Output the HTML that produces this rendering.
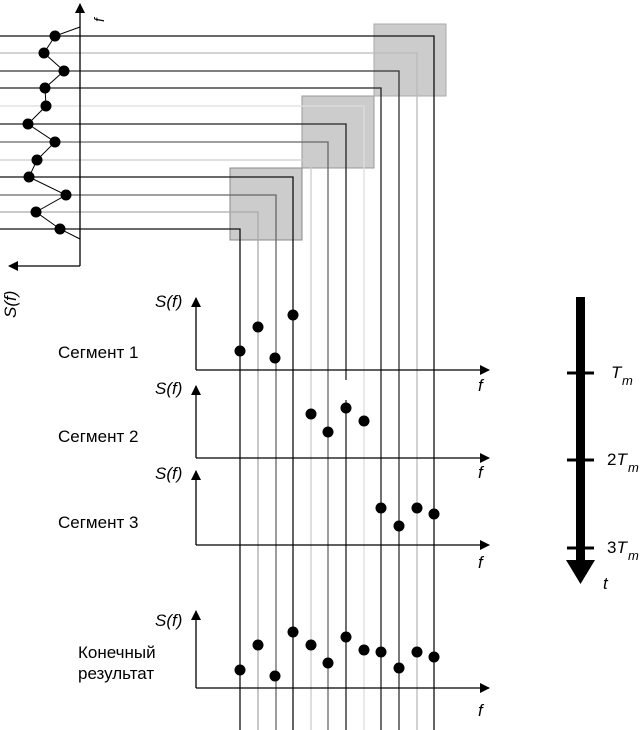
<!DOCTYPE html>
<html><head><meta charset="utf-8"><style>body{margin:0;background:#fff}svg{display:block}text{font-family:"Liberation Sans",Arial,sans-serif;fill:#000}</style></head>
<body>
<svg width="643" height="730" viewBox="0 0 643 730" xmlns="http://www.w3.org/2000/svg" font-size="17">
<defs>
<marker id="ar" markerWidth="10" markerHeight="10" refX="9" refY="5" orient="auto" markerUnits="userSpaceOnUse"><path d="M0,0 L10,5 L0,10z" fill="#000"/></marker>
</defs>
<rect x="230" y="168" width="72" height="72" fill="#cccccc" stroke="#888" stroke-width="1"/>
<rect x="302" y="96" width="72" height="72" fill="#cccccc" stroke="#999" stroke-width="1"/>
<rect x="374" y="24" width="72" height="72" fill="#cccccc" stroke="#aaa" stroke-width="1"/>
<g fill="none" stroke-width="1.3">
<path d="M0,36H434V730" stroke="#111"/>
<path d="M0,53H417V730" stroke="#bbb"/>
<path d="M0,71H399V730" stroke="#333"/>
<path d="M0,88H381V730" stroke="#222"/>
<path d="M0,106H364V730" stroke="#ddd"/>
<path d="M0,124H346V380M346,400V730" stroke="#222"/>
<path d="M0,142H328V730" stroke="#666"/>
<path d="M0,160H311V730" stroke="#ccc"/>
<path d="M0,177H293V730" stroke="#111"/>
<path d="M0,195H276V730" stroke="#666"/>
<path d="M0,212H258V730" stroke="#aaa"/>
<path d="M0,229H240V730" stroke="#111"/>
</g>
<line x1="80" y1="266" x2="80" y2="4" stroke="#000" stroke-width="1.3" marker-end="url(#ar)"/>
<line x1="80" y1="266" x2="9" y2="266" stroke="#000" stroke-width="1.3" marker-end="url(#ar)"/>
<polyline points="80,27 55,36 44,53 64,71 45,88 46,106 28,124 55,142 37,160 29,177 66,195 36,212 60,229 80,239" fill="none" stroke="#000" stroke-width="1"/>
<g fill="#000">
<circle cx="55" cy="36" r="5.5"/><circle cx="44" cy="53" r="5.5"/><circle cx="64" cy="71" r="5.5"/><circle cx="45" cy="88" r="5.5"/><circle cx="46" cy="106" r="5.5"/><circle cx="28" cy="124" r="5.5"/><circle cx="55" cy="142" r="5.5"/><circle cx="37" cy="160" r="5.5"/><circle cx="29" cy="177" r="5.5"/><circle cx="66" cy="195" r="5.5"/><circle cx="36" cy="212" r="5.5"/><circle cx="60" cy="229" r="5.5"/>
</g>
<text transform="translate(104,22) rotate(-90)" font-style="italic" font-size="14">f</text>
<text transform="translate(16,318) rotate(-90)" font-style="italic">S(f)</text>
<g stroke="#000" stroke-width="1.3">
<line x1="196" y1="370" x2="196" y2="298" marker-end="url(#ar)"/><line x1="196" y1="370" x2="489" y2="370" marker-end="url(#ar)"/>
<line x1="196" y1="458" x2="196" y2="386" marker-end="url(#ar)"/><line x1="196" y1="458" x2="489" y2="458" marker-end="url(#ar)"/>
<line x1="196" y1="545" x2="196" y2="471" marker-end="url(#ar)"/><line x1="196" y1="545" x2="489" y2="545" marker-end="url(#ar)"/>
<line x1="196" y1="688" x2="196" y2="611" marker-end="url(#ar)"/><line x1="196" y1="688" x2="489" y2="688" marker-end="url(#ar)"/>
</g>
<g fill="#000">
<circle cx="240" cy="351" r="5.5"/><circle cx="258" cy="327" r="5.5"/><circle cx="275" cy="358" r="5.5"/><circle cx="293" cy="315" r="5.5"/>
<circle cx="311" cy="414" r="5.5"/><circle cx="328" cy="432" r="5.5"/><circle cx="346" cy="408" r="5.5"/><circle cx="364" cy="421" r="5.5"/>
<circle cx="381" cy="508" r="5.5"/><circle cx="399" cy="526" r="5.5"/><circle cx="417" cy="508" r="5.5"/><circle cx="434" cy="514" r="5.5"/>
<circle cx="240" cy="670" r="5.5"/><circle cx="258" cy="645" r="5.5"/><circle cx="275" cy="676" r="5.5"/><circle cx="293" cy="632" r="5.5"/><circle cx="311" cy="645" r="5.5"/><circle cx="328" cy="663" r="5.5"/><circle cx="346" cy="637" r="5.5"/><circle cx="364" cy="650" r="5.5"/><circle cx="381" cy="652" r="5.5"/><circle cx="399" cy="668" r="5.5"/><circle cx="417" cy="652" r="5.5"/><circle cx="434" cy="657" r="5.5"/>
</g>
<g font-style="italic">
<text x="155" y="307">S(f)</text><text x="155" y="394">S(f)</text><text x="155" y="479">S(f)</text><text x="155" y="626">S(f)</text>
<text x="478" y="391">f</text><text x="478" y="478">f</text><text x="478" y="568">f</text><text x="478" y="716">f</text>
</g>
<text x="58" y="358">Сегмент 1</text>
<text x="58" y="442">Сегмент 2</text>
<text x="58" y="528">Сегмент 3</text>
<text x="78" y="658">Конечный</text>
<text x="78" y="679">результат</text>
<rect x="576" y="297" width="9" height="266" fill="#000"/>
<path d="M566,560 L595,560 L580.5,584z" fill="#000"/>
<g stroke="#000" stroke-width="3"><line x1="567" y1="373" x2="594" y2="373"/><line x1="567" y1="460" x2="594" y2="460"/><line x1="567" y1="548" x2="594" y2="548"/></g>
<text x="611" y="378" font-style="italic">T</text><text x="622" y="385" font-style="italic" font-size="13">m</text>
<text x="607" y="465">2<tspan font-style="italic">T</tspan></text><text x="628" y="472" font-style="italic" font-size="13">m</text>
<text x="607" y="553">3<tspan font-style="italic">T</tspan></text><text x="628" y="560" font-style="italic" font-size="13">m</text>
<text x="603" y="589" font-style="italic">t</text>
</svg>
</body></html>
